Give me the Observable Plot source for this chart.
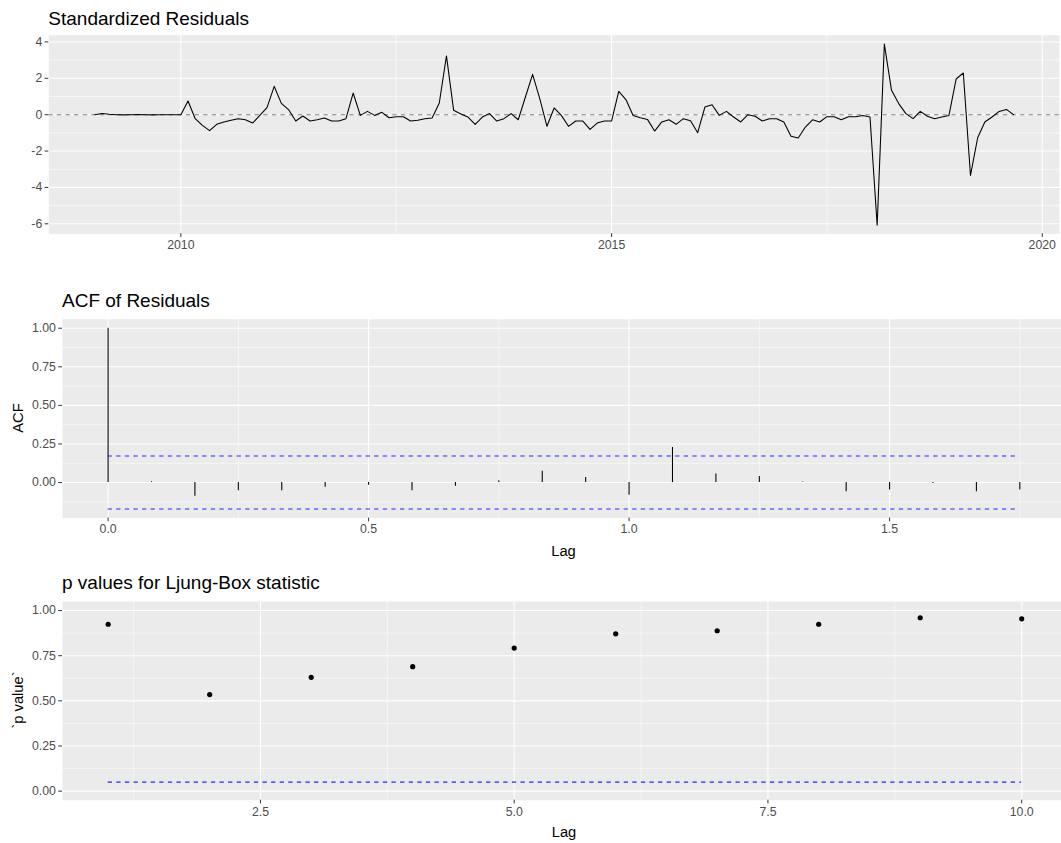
<!DOCTYPE html>
<html>
<head>
<meta charset="utf-8">
<script src="https://cdn.jsdelivr.net/npm/d3@7"></script>
<script src="https://cdn.jsdelivr.net/npm/@observablehq/plot@0.6"></script>
<style>
  html, body { margin: 0; padding: 0; background: #fff; }
  #chart { position: relative; width: 1061px; height: 843px; overflow: hidden; font-family: "Liberation Sans", Arial, sans-serif; }
  #chart svg.panel { position: absolute; left: 0; }
  #chart svg.panel text { font-size: 12.3px !important; fill: #4D4D4D !important; }
  #overlay { position: absolute; left: 0; top: 0; pointer-events: none; }
</style>
</head>
<body>
<div id="chart"></div>
<script>
// Standardized residuals, monthly, starting January 2009
const startYear = 2009;
const frequency = 12;
const residuals = [
   0.00,  0.06,  0.02,  0.00, -0.01,  0.00,  0.01,  0.00, -0.01,  0.00,  0.00,  0.00,
   0.00,  0.75, -0.22, -0.59, -0.88, -0.53, -0.40, -0.31, -0.22, -0.28, -0.46, -0.04,
   0.39,  1.56,  0.62,  0.28, -0.35, -0.07, -0.35, -0.28, -0.18, -0.35, -0.35, -0.22,
   1.19, -0.04,  0.18, -0.04,  0.13, -0.17, -0.11, -0.11, -0.35, -0.31, -0.22, -0.18,
   0.64,  3.23,  0.24,  0.04, -0.13, -0.53, -0.13,  0.06, -0.35, -0.22,  0.06, -0.28,
   0.97,  2.22,  0.88, -0.64,  0.37, -0.04, -0.64, -0.35, -0.35, -0.81, -0.46, -0.35,
  -0.35,  1.28,  0.83, -0.04, -0.17, -0.26, -0.90, -0.40, -0.28, -0.53, -0.22, -0.33,
  -0.99,  0.42,  0.55, -0.04,  0.18, -0.13, -0.40,  0.00, -0.09, -0.35, -0.22, -0.22,
  -0.40, -1.19, -1.28, -0.68, -0.28, -0.40, -0.11, -0.11, -0.28, -0.11, -0.11, -0.04,
  -0.13, -6.08,  3.88,  1.34,  0.61,  0.06, -0.22,  0.18, -0.09, -0.22, -0.13, -0.04,
   1.96,  2.29, -3.34, -1.27, -0.40, -0.13,  0.18,  0.29,  0.00
];

// Autocorrelation of the residuals at lags 0..21 months
const acfLags = d3.range(0, 22);
const acfValues = [
   1.000,  0.005, -0.089, -0.054, -0.054, -0.030, -0.017, -0.054, -0.024,  0.012,
   0.073,  0.032, -0.082,  0.227,  0.055,  0.039,  0.003, -0.060, -0.048, -0.006,
  -0.060, -0.048
];
const acfBound = 0.172;

// Ljung-Box p values for lags 1..10
const lbLags = [1, 2, 3, 4, 5, 6, 7, 8, 9, 10];
const lbPValues = [0.924, 0.535, 0.630, 0.689, 0.792, 0.871, 0.888, 0.924, 0.960, 0.954];
const lbThreshold = 0.05;

// Tick positions and labels
const resYTicks = [-6, -4, -2, 0, 2, 4];
const resYMinor = [-5, -3, -1, 1, 3];
const resXTicks = [2010, 2015, 2020];
const resXMinor = [2012.5, 2017.5];
const acfYTicks = [0, 0.25, 0.5, 0.75, 1];
const acfYMinor = [-0.125, 0.125, 0.375, 0.625, 0.875];
const acfXTicks = [0, 0.5, 1, 1.5];
const acfXMinor = [0.25, 0.75, 1.25, 1.75];
const lbYTicks = [0, 0.25, 0.5, 0.75, 1];
const lbYMinor = [0.125, 0.375, 0.625, 0.875];
const lbXTicks = [2.5, 5, 7.5, 10];
const lbXMinor = [1.25, 3.75, 6.25, 8.75];

const residualRows = residuals.map((v, i) => ({time: startYear + i / frequency, value: v}));
const acfRows = acfLags.map((k, i) => ({lag: k / frequency, acf: acfValues[i]}));
const lbRows = lbLags.map((k, i) => ({lag: k, p: lbPValues[i]}));

const PANEL_BG = "#EBEBEB";
const axisOpts = {tickSize: 3.67, tickPadding: 2.9, fontSize: 12.3, stroke: "#333333", label: null};

function grids(xMajor, xMinor, yMajor, yMinor) {
  return [
    Plot.frame({fill: PANEL_BG, stroke: null}),
    Plot.gridY(yMinor, {stroke: "white", strokeOpacity: 1, strokeWidth: 0.55}),
    Plot.gridX(xMinor, {stroke: "white", strokeOpacity: 1, strokeWidth: 0.55}),
    Plot.gridY(yMajor, {stroke: "white", strokeOpacity: 1, strokeWidth: 1.1}),
    Plot.gridX(xMajor, {stroke: "white", strokeOpacity: 1, strokeWidth: 1.1})
  ];
}

const chart = document.getElementById("chart");

function place(svg, top) {
  svg.classList.add("panel");
  svg.style.top = top + "px";
  chart.appendChild(svg);
}

// Panel 1: standardized residuals over time
const p1 = Plot.plot({
  width: 1061, height: 260,
  marginTop: 34.7, marginBottom: 26.7, marginLeft: 48.3, marginRight: 2,
  style: {fontFamily: "Liberation Sans, Arial, sans-serif", background: "transparent", overflow: "visible"},
  x: {type: "linear", domain: [2008.467, 2020.2], label: null},
  y: {domain: [-6.55, 4.37], label: null},
  marks: [
    ...grids(resXTicks, resXMinor, resYTicks, resYMinor),
    Plot.ruleY([0], {stroke: "#808080", strokeWidth: 1.07, strokeDasharray: "4.3,4.3"}),
    Plot.line(residualRows, {x: "time", y: "value", stroke: "black", strokeWidth: 1.07}),
    Plot.axisY(resYTicks, {...axisOpts, tickFormat: d => String(d)}),
    Plot.axisX(resXTicks, {...axisOpts, tickFormat: d => String(d)})
  ]
});
place(p1, 0);

// Panel 2: ACF of residuals
const p2 = Plot.plot({
  width: 1061, height: 280,
  marginTop: 28.7, marginBottom: 52.4, marginLeft: 62, marginRight: 0,
  style: {fontFamily: "Liberation Sans, Arial, sans-serif", background: "transparent", overflow: "visible"},
  x: {domain: [-0.0875, 1.83], label: null},
  y: {domain: [-0.2305, 1.0585], label: null},
  marks: [
    ...grids(acfXTicks, acfXMinor, acfYTicks, acfYMinor),
    Plot.ruleX(acfRows, {x: "lag", y1: 0, y2: "acf", stroke: "black", strokeWidth: 1.07}),
    Plot.ruleY([acfBound, -acfBound], {x1: 0, x2: acfLags[acfLags.length - 1] / frequency,
      stroke: "#2626FF", strokeWidth: 1.07, strokeDasharray: "4.3,4.3"}),
    Plot.axisY(acfYTicks, {...axisOpts, tickFormat: d3.format(".2f")}),
    Plot.axisX(acfXTicks, {...axisOpts, tickFormat: d3.format(".1f")})
  ]
});
place(p2, 290);

// Panel 3: Ljung-Box p values
const p3 = Plot.plot({
  width: 1061, height: 273,
  marginTop: 31, marginBottom: 43.3, marginLeft: 62, marginRight: 0,
  style: {fontFamily: "Liberation Sans, Arial, sans-serif", background: "transparent", overflow: "visible"},
  x: {domain: [0.55, 10.392], label: null},
  y: {domain: [-0.05, 1.05], label: null},
  marks: [
    ...grids(lbXTicks, lbXMinor, lbYTicks, lbYMinor),
    Plot.ruleY([lbThreshold], {x1: lbLags[0], x2: lbLags[lbLags.length - 1],
      stroke: "#2626FF", strokeWidth: 1.07, strokeDasharray: "4.3,4.3"}),
    Plot.dot(lbRows, {x: "lag", y: "p", r: 2.6, fill: "black", stroke: null}),
    Plot.axisY(lbYTicks, {...axisOpts, tickFormat: d3.format(".2f")}),
    Plot.axisX(lbXTicks, {...axisOpts, tickFormat: d3.format(".1f")})
  ]
});
place(p3, 570);

// Tick label styling (ggplot grey30 labels)
d3.selectAll("#chart svg.panel text")
  .style("font-size", "12.3px")
  .style("fill", "#4D4D4D")
  .style("stroke", "none");

// Titles and axis titles
const overlay = d3.select(chart).append("svg")
  .attr("id", "overlay")
  .attr("width", 1061).attr("height", 843)
  .style("font-family", "Liberation Sans, Arial, sans-serif");

const titles = [
  {text: "Standardized Residuals", x: 48.3, y: 25},
  {text: "ACF of Residuals", x: 62, y: 306.5},
  {text: "p values for Ljung-Box statistic", x: 62, y: 589}
];
overlay.selectAll("text.title").data(titles).join("text")
  .attr("class", "title")
  .attr("x", d => d.x).attr("y", d => d.y)
  .attr("font-size", 19).attr("fill", "black")
  .text(d => d.text);

const xTitles = [
  {text: "Lag", x: 563.5, y: 555.5},
  {text: "Lag", x: 564, y: 837.2}
];
overlay.selectAll("text.xtitle").data(xTitles).join("text")
  .attr("class", "xtitle")
  .attr("x", d => d.x).attr("y", d => d.y)
  .attr("text-anchor", "middle")
  .attr("font-size", 14.7).attr("fill", "black")
  .text(d => d.text);

const yTitles = [
  {text: "ACF", x: 23, y: 418},
  {text: "`p value`", x: 22.5, y: 700}
];
overlay.selectAll("text.ytitle").data(yTitles).join("text")
  .attr("class", "ytitle")
  .attr("transform", d => `translate(${d.x},${d.y}) rotate(-90)`)
  .attr("text-anchor", "middle")
  .attr("font-size", 14.7).attr("fill", "black")
  .text(d => d.text);
</script>
</body>
</html>
